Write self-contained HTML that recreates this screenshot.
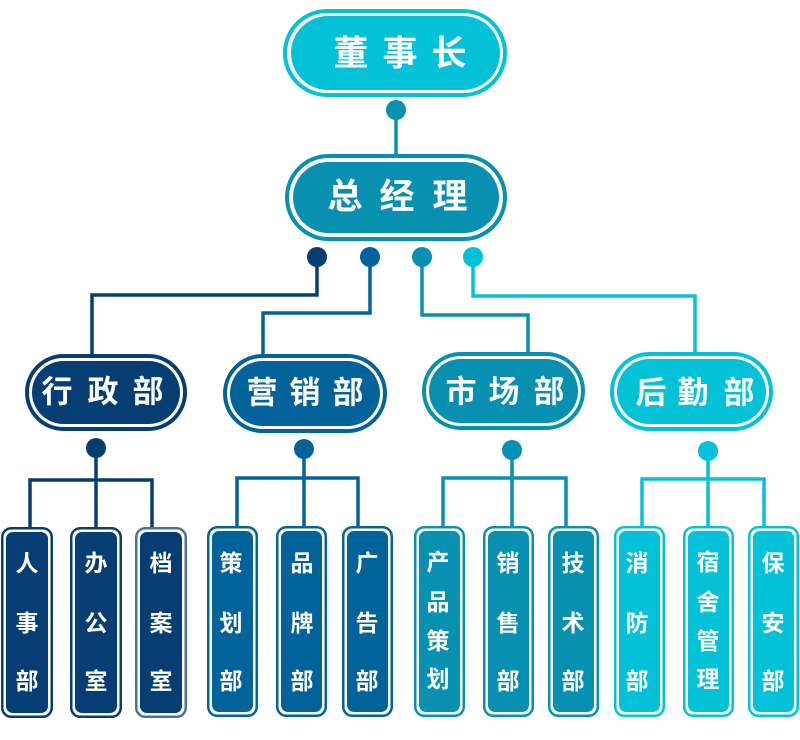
<!DOCTYPE html>
<html>
<head>
<meta charset="utf-8">
<style>
html,body{margin:0;padding:0;background:#fff;}
svg{display:block;}
text{font-family:"Liberation Sans","Noto Sans CJK SC",sans-serif;font-weight:bold;fill:#fff;text-anchor:middle;dominant-baseline:central;}
</style>
</head>
<body>
<svg width="800" height="740" viewBox="0 0 800 740" xmlns="http://www.w3.org/2000/svg">
<!-- Top: 董事长 -->
<rect x="285" y="11" width="220" height="84" rx="42" fill="#fff" stroke="#03c2d8" stroke-width="4"/>
<rect x="291" y="16" width="209" height="74" rx="37" fill="#03c2d8"/>
<text x="351" y="54" font-size="35">董</text>
<text x="400" y="54" font-size="35">事</text>
<text x="449" y="54" font-size="35">长</text>

<!-- connector -->
<line x1="396" y1="110" x2="396" y2="157" stroke="#0790b0" stroke-width="3.5"/>
<circle cx="396" cy="110" r="10" fill="#0790b0"/>

<!-- 总经理 -->
<rect x="287" y="156" width="218" height="83" rx="41.5" fill="#fff" stroke="#0790b0" stroke-width="4"/>
<rect x="293" y="162" width="206" height="71" rx="35.5" fill="#0790b0"/>
<text x="345" y="197" font-size="35">总</text>
<text x="397" y="197" font-size="35">经</text>
<text x="450" y="197" font-size="35">理</text>

<!-- Level 1 connectors -->
<g fill="none" stroke-width="3.5" stroke-linejoin="miter">
<path d="M317 257 V295 H92 V357" stroke="#063d73"/>
<path d="M370 257 V313 H263 V357" stroke="#02639a"/>
<path d="M422 257 V315 H528 V355" stroke="#0790b0"/>
<path d="M473 257 V296 H695 V355" stroke="#03c2d8"/>
</g>
<circle cx="317" cy="257" r="10" fill="#063d73"/>
<circle cx="370" cy="257" r="10" fill="#02639a"/>
<circle cx="422" cy="257" r="10" fill="#0790b0"/>
<circle cx="473" cy="257" r="10" fill="#03c2d8"/>

<!-- Level 2 boxes -->
<rect x="27" y="356" width="158" height="73" rx="36.5" fill="#fff" stroke="#063d73" stroke-width="4"/>
<rect x="32" y="361" width="148" height="63" rx="31.5" fill="#063d73"/>
<text x="57" y="392" font-size="31">行</text>
<text x="103" y="392" font-size="31">政</text>
<text x="148" y="392" font-size="31">部</text>

<rect x="225" y="356" width="160" height="75" rx="37.5" fill="#fff" stroke="#02639a" stroke-width="4"/>
<rect x="230" y="361" width="150" height="65" rx="32.5" fill="#02639a"/>
<text x="262" y="393" font-size="31">营</text>
<text x="305" y="393" font-size="31">销</text>
<text x="348" y="393" font-size="31">部</text>

<rect x="424" y="354" width="159" height="74" rx="37" fill="#fff" stroke="#0790b0" stroke-width="4"/>
<rect x="429" y="359" width="149" height="64" rx="32" fill="#0790b0"/>
<text x="461" y="392" font-size="31">市</text>
<text x="504" y="392" font-size="31">场</text>
<text x="549" y="392" font-size="31">部</text>

<rect x="612" y="354" width="159" height="75" rx="37.5" fill="#fff" stroke="#03c2d8" stroke-width="4"/>
<rect x="617" y="359" width="149" height="65" rx="32.5" fill="#03c2d8"/>
<text x="651" y="393" font-size="31">后</text>
<text x="693" y="393" font-size="31">勤</text>
<text x="739" y="393" font-size="31">部</text>

<!-- Level 2 connectors -->
<g fill="none" stroke-width="3.5">
<path d="M96 448 V529 M30 529 V480 H152 V529" stroke="#063d73"/>
<path d="M304 449 V528 M237 528 V478 H358 V528" stroke="#02639a"/>
<path d="M512 450 V528 M443 528 V478 H566 V528" stroke="#0790b0"/>
<path d="M708 451 V528 M642 528 V479 H764 V528" stroke="#03c2d8"/>
</g>
<circle cx="96" cy="448" r="10" fill="#063d73"/>
<circle cx="304" cy="449" r="10" fill="#02639a"/>
<circle cx="512" cy="450" r="10" fill="#0790b0"/>
<circle cx="708" cy="451" r="10" fill="#03c2d8"/>

<!-- Level 3 boxes -->
<g stroke-width="2.5">
<rect x="2.25" y="528.25" width="49.5" height="188.5" rx="9" fill="#fff" stroke="#063d73"/>
<rect x="6" y="532" width="42" height="181" rx="7" fill="#063d73" stroke="none"/>
<rect x="71.25" y="528.25" width="49.5" height="188.5" rx="9" fill="#fff" stroke="#063d73"/>
<rect x="75" y="532" width="42" height="181" rx="7" fill="#063d73" stroke="none"/>
<rect x="136.25" y="528.25" width="49.5" height="188.5" rx="9" fill="#fff" stroke="#4573a3"/>
<rect x="140" y="532" width="42" height="181" rx="7" fill="#063d73" stroke="none"/>

<rect x="208.25" y="527.25" width="48.5" height="188.5" rx="9" fill="#fff" stroke="#02639a"/>
<rect x="212" y="531" width="41" height="181" rx="7" fill="#02639a" stroke="none"/>
<rect x="277.25" y="527.25" width="48.5" height="188.5" rx="9" fill="#fff" stroke="#02639a"/>
<rect x="281" y="531" width="41" height="181" rx="7" fill="#02639a" stroke="none"/>
<rect x="343.25" y="527.25" width="48.5" height="188.5" rx="9" fill="#fff" stroke="#02639a"/>
<rect x="347" y="531" width="41" height="181" rx="7" fill="#02639a" stroke="none"/>

<rect x="415.25" y="527.25" width="48.5" height="188.5" rx="9" fill="#fff" stroke="#0790b0"/>
<rect x="419" y="531" width="41" height="181" rx="7" fill="#0790b0" stroke="none"/>
<rect x="484.25" y="527.25" width="48.5" height="188.5" rx="9" fill="#fff" stroke="#0790b0"/>
<rect x="488" y="531" width="41" height="181" rx="7" fill="#0790b0" stroke="none"/>
<rect x="549.25" y="527.25" width="48.5" height="188.5" rx="9" fill="#fff" stroke="#0790b0"/>
<rect x="553" y="531" width="41" height="181" rx="7" fill="#0790b0" stroke="none"/>

<rect x="615.25" y="527.25" width="48.5" height="188.5" rx="9" fill="#fff" stroke="#03c2d8"/>
<rect x="619" y="531" width="41" height="181" rx="7" fill="#03c2d8" stroke="none"/>
<rect x="684.25" y="527.25" width="48.5" height="188.5" rx="9" fill="#fff" stroke="#03c2d8"/>
<rect x="688" y="531" width="41" height="181" rx="7" fill="#03c2d8" stroke="none"/>
<rect x="749.25" y="527.25" width="48.5" height="188.5" rx="9" fill="#fff" stroke="#03c2d8"/>
<rect x="753" y="531" width="41" height="181" rx="7" fill="#03c2d8" stroke="none"/>
</g>

<!-- Level 3 text -->
<g font-size="23">
<text x="27" y="563">人</text><text x="27" y="623">事</text><text x="27" y="681">部</text>
<text x="96" y="563">办</text><text x="96" y="623">公</text><text x="96" y="681">室</text>
<text x="161" y="563">档</text><text x="161" y="623">案</text><text x="161" y="681">室</text>

<text x="231" y="563">策</text><text x="231" y="623">划</text><text x="231" y="681">部</text>
<text x="302" y="563">品</text><text x="302" y="623">牌</text><text x="302" y="681">部</text>
<text x="367" y="563">广</text><text x="367" y="623">告</text><text x="367" y="681">部</text>

<text x="438" y="562">产</text><text x="438" y="602">品</text><text x="438" y="641">策</text><text x="438" y="679">划</text>
<text x="508" y="563">销</text><text x="508" y="623">售</text><text x="508" y="681">部</text>
<text x="573" y="563">技</text><text x="573" y="623">术</text><text x="573" y="681">部</text>

<text x="637" y="563">消</text><text x="637" y="623">防</text><text x="637" y="681">部</text>
<text x="708" y="562">宿</text><text x="708" y="602">舍</text><text x="708" y="641">管</text><text x="708" y="679">理</text>
<text x="773" y="563">保</text><text x="773" y="623">安</text><text x="773" y="681">部</text>
</g>
</svg>
</body>
</html>
